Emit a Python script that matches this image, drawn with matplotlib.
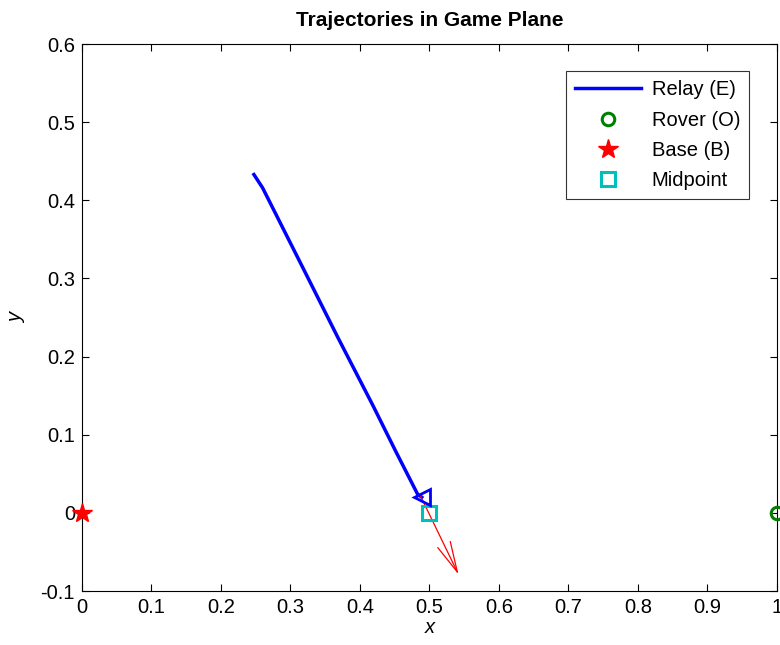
import matplotlib
matplotlib.use("Agg")
import matplotlib.pyplot as plt
import numpy as np

plt.rcParams['font.family'] = ['Liberation Sans', 'DejaVu Sans']

# Relay trajectory
relay_x = [0.2475, 0.260, 0.324, 0.368, 0.419, 0.452, 0.483, 0.489]
relay_y = [0.433, 0.416, 0.303, 0.225, 0.137, 0.078, 0.024, 0.020]

rover = (1.0, 0.0)
base = (0.0, 0.0)
midpoint = (0.5, 0.0)

arrow_start = (0.487, 0.022)
arrow_vec = (0.055, -0.101)

xticks = [0, 0.1, 0.2, 0.3, 0.4, 0.5, 0.6, 0.7, 0.8, 0.9, 1]
yticks = [-0.1, 0, 0.1, 0.2, 0.3, 0.4, 0.5, 0.6]

fig = plt.figure(figsize=(7.8, 6.45), dpi=100)
ax = fig.add_axes([0.105, 0.0837, 0.891, 0.848])

ax.plot(relay_x, relay_y, color='blue', lw=2.5, label='Relay (E)')
ax.plot([rover[0]], [rover[1]], 'o', mfc='none', mec=(0, 0.5, 0), mew=2.2, ms=9, clip_on=False, label='Rover (O)', zorder=5)
ax.plot([base[0]], [base[1]], '*', color='red', ms=15, clip_on=False, label='Base (B)', zorder=5)
ax.plot([midpoint[0]], [midpoint[1]], 's', mfc='none', mec=(0, 0.75, 0.75), mew=2.2, ms=10, label='Midpoint', zorder=5)
ax.plot([relay_x[-1]], [relay_y[-1]], '<', mfc='none', mec='blue', mew=2, ms=12, zorder=6)

ax.annotate('', xy=(arrow_start[0] + arrow_vec[0], arrow_start[1] + arrow_vec[1]), xytext=arrow_start,
            arrowprops=dict(arrowstyle='->,head_length=2.2,head_width=0.5', color='red', lw=0.9, shrinkA=0, shrinkB=0))

ax.set_xlim(0, 1)
ax.set_ylim(-0.1, 0.6)
ax.set_xticks(xticks)
ax.set_xticklabels(['0', '0.1', '0.2', '0.3', '0.4', '0.5', '0.6', '0.7', '0.8', '0.9', '1'])
ax.set_yticks(yticks)
ax.set_yticklabels(['-0.1', '0', '0.1', '0.2', '0.3', '0.4', '0.5', '0.6'])
ax.tick_params(direction='in', length=5, labelsize=14.5, top=True, right=True, pad=5)
ax.set_xlabel('x', fontsize=14.5, style='italic', labelpad=1)
ax.set_ylabel('y', fontsize=14.5, style='italic', labelpad=10)
ax.set_title('Trajectories in Game Plane', fontsize=15, fontweight='bold', pad=13)

leg = ax.legend(loc='upper right', bbox_to_anchor=(0.96, 0.95), fontsize=14.5, frameon=True, fancybox=False,
                edgecolor='black', handlelength=3.3, borderpad=0.45, labelspacing=0.56, handletextpad=0.5,
                borderaxespad=0.0)
leg.get_frame().set_linewidth(0.8)

fig.savefig('out.png', dpi=100)
